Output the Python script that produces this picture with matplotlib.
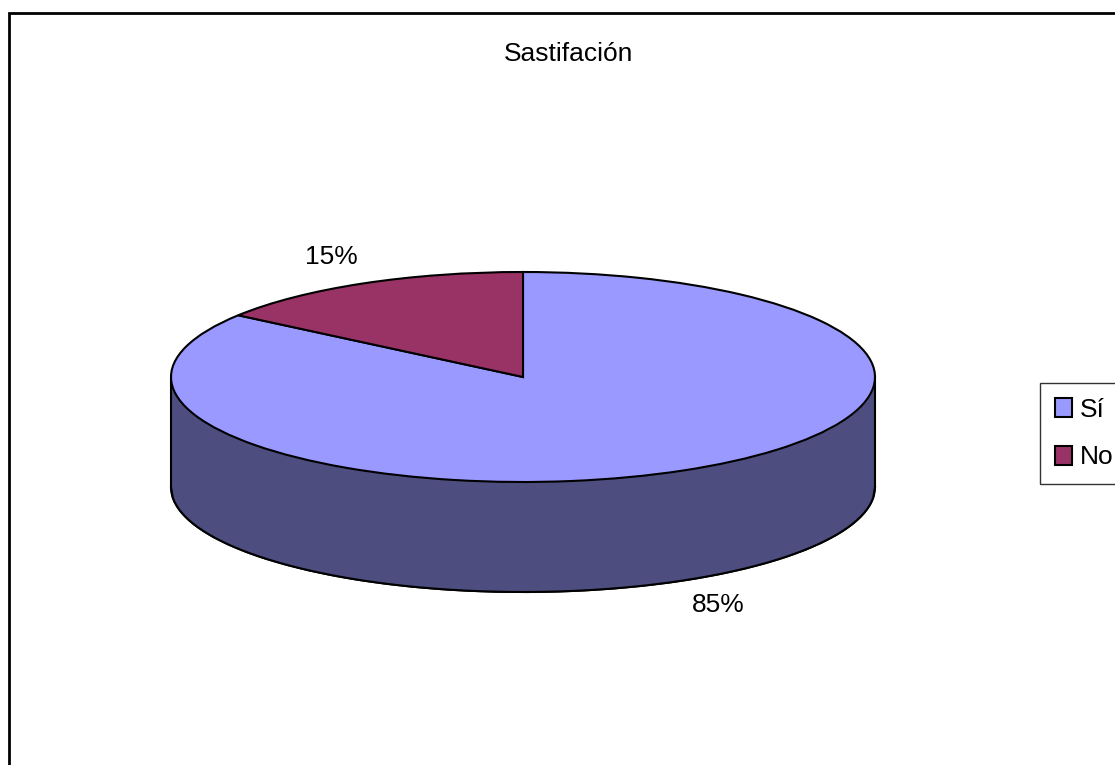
import numpy as np
import matplotlib
matplotlib.use("Agg")
import matplotlib.pyplot as plt
from matplotlib.patches import Rectangle, Patch

plt.rcParams["font.family"] = ["Liberation Sans", "DejaVu Sans"]

categorias = ["Sí", "No"]
valores = [85, 15]
etiquetas = ["85%", "15%"]
colores = ["#9999FF", "#993366"]
colores_lado = ["#4D4D80", "#4D1A33"]
titulo = "Sastifación"

W, H = 1115, 765
cx, cy = 523, 377
rx, ry = 352, 105
prof = 110 / ry

fig = plt.figure(figsize=(W / 100, H / 100), dpi=100, facecolor="white")
ax = fig.add_axes([0, 0, 1, 1])

# lado del cilindro
ax.pie(valores, colors=colores_lado, startangle=90, counterclock=False,
       center=(0, -prof), wedgeprops={"edgecolor": "black", "linewidth": 1.5})
x = np.linspace(-1, 1, 400)
y = -np.sqrt(1 - x ** 2)
ax.fill_between(x, y, y - prof, color=colores_lado[0], lw=0)
ax.plot(x, y - prof, color="black", lw=1.5)
ax.plot([-1, -1], [0, -prof], color="black", lw=1.5)
ax.plot([1, 1], [0, -prof], color="black", lw=1.5)

# tapa
ax.pie(valores, colors=colores, startangle=90, counterclock=False,
       wedgeprops={"edgecolor": "black", "linewidth": 1.5})

ax.set_aspect("auto")
ax.set_xlim(-cx / rx, (W - cx) / rx)
ax.set_ylim((cy - H) / ry, cy / ry)
ax.axis("off")

fig.text(568.5 / W, 1 - 54 / H, titulo, ha="center", va="center", fontsize=19)
fig.text(718 / W, 1 - 605 / H, etiquetas[0], ha="center", va="center", fontsize=19)
fig.text(331 / W, 1 - 257 / H, etiquetas[1], ha="center", va="center", fontsize=19)

# marco exterior
fig.add_artist(Rectangle((9 / W, -0.02), (W + 10) / W, 1.02 - 13.5 / H, transform=fig.transFigure,
                         fill=False, edgecolor="black", linewidth=2))

leg = fig.legend(handles=[Patch(facecolor=c, edgecolor="black", linewidth=1.5, label=n)
                          for c, n in zip(colores, categorias)],
                 loc="center left", bbox_to_anchor=(1040 / W, 1 - 433.5 / H),
                 fontsize=19, frameon=True, fancybox=False, edgecolor="black",
                 handlelength=0.65, handleheight=0.72, handletextpad=0.3,
                 labelspacing=0.9, borderpad=0.55, borderaxespad=0)
leg.get_frame().set_linewidth(1)

fig.savefig("out.png", dpi=100)
